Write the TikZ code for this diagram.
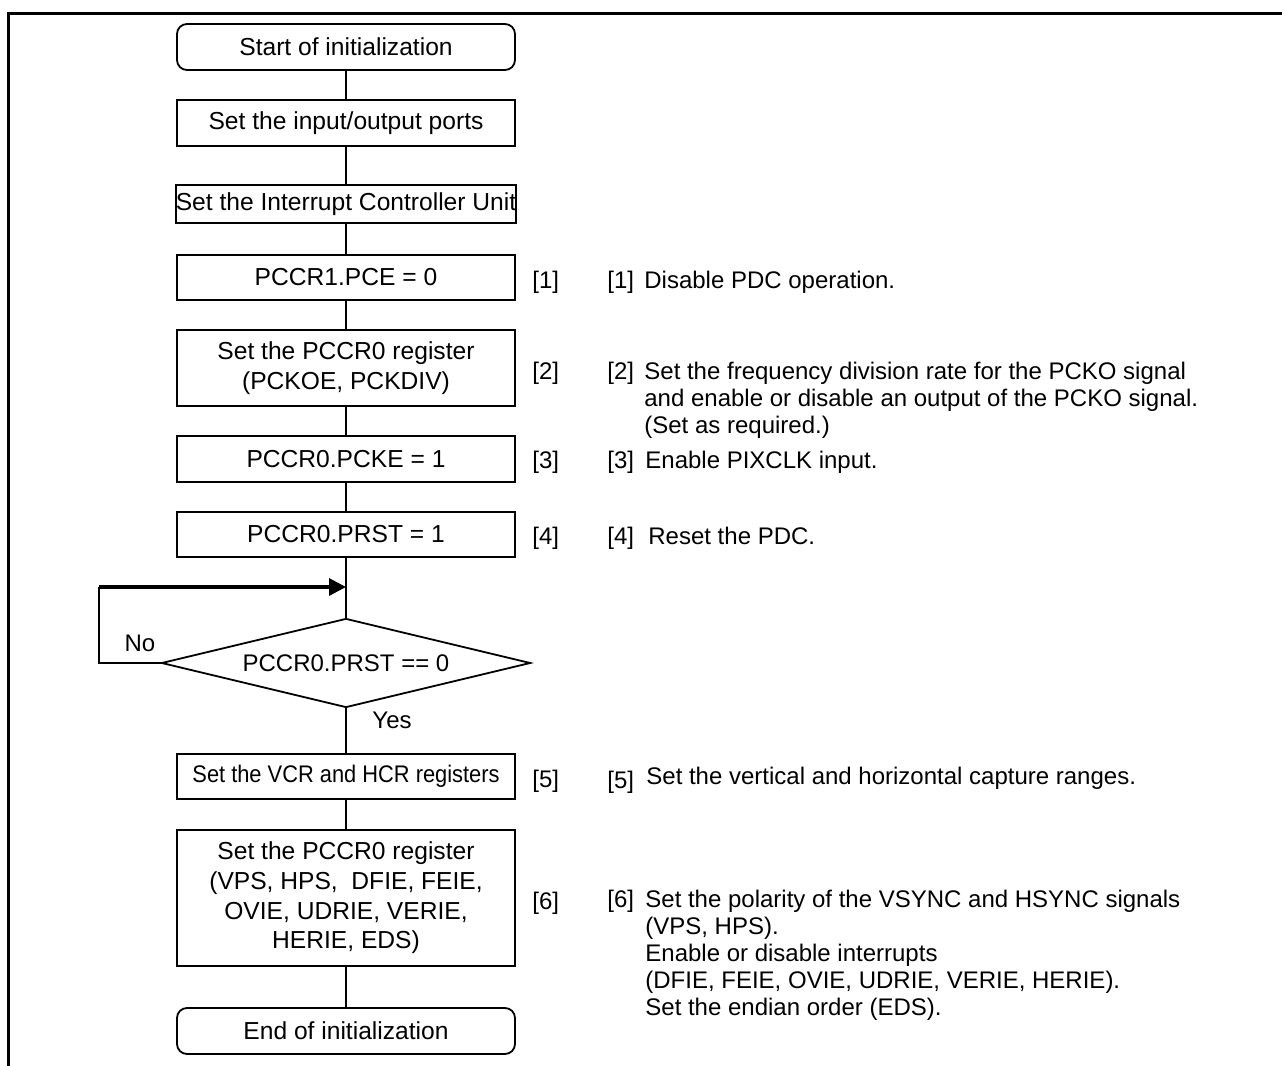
\documentclass[tikz,border=0pt]{standalone}
\usepackage{fontspec}
\setmainfont{Liberation Sans}
\newfontfamily\vcrfont[FakeStretch=0.91]{Liberation Sans}
\usetikzlibrary{shapes.geometric,arrows.meta}
\begin{document}
\begin{tikzpicture}[x=0.5pt,y=-0.5pt,
  box/.style={draw,line width=0.9pt,minimum width=169pt,inner sep=0pt,align=center,font=\fontsize{12.3}{14.8}\selectfont},
  term/.style={box,rounded corners=5pt},
  lbl/.style={anchor=base west,inner sep=0pt,font=\fontsize{12}{13.5}\selectfont},
  conn/.style={line width=0.85pt},
  thickarrow/.style={line width=1.6pt,-{Triangle[length=8.5pt,width=8.5pt]}}]
\useasboundingbox (0,0) rectangle (1282,1066);
\draw[line width=1.5pt] (8,1066) -- (8,13) -- (1282,13);

% flow boxes
\node[term,minimum height=23pt] (start) at (346,47) {Start of initialization};
\node[box,minimum height=23pt] (ports) at (346,123) {Set the input/output ports};
\node[box,minimum height=19pt] (icu) at (346,204) {Set the Interrupt Controller Unit};
\node[box,minimum height=22.5pt] (pce) at (346,277.5) {PCCR1.PCE = 0};
\node[box,minimum height=38pt] (reg1) at (346,368) {Set the PCCR0 register\\(PCKOE, PCKDIV)};
\node[box,minimum height=23pt] (pcke) at (346,459) {PCCR0.PCKE = 1};
\node[box,minimum height=22.5pt] (prst) at (346,534.5) {PCCR0.PRST = 1};
\node[draw,diamond,aspect=4.15,line width=0.9pt,inner sep=0pt,minimum width=184.5pt,minimum height=44.5pt,font=\fontsize{12}{14.5}\selectfont] (dec) at (346,663) {PCCR0.PRST == 0};
\node[box,minimum height=22.5pt,font=\vcrfont\fontsize{12}{14.5}\selectfont] (vcr) at (346,776.5) {Set the VCR and HCR registers};
\node[box,minimum height=68pt] (reg2) at (346,898) {Set the PCCR0 register\\(VPS, HPS,\ \ DFIE, FEIE,\\OVIE, UDRIE, VERIE,\\HERIE, EDS)};
\node[term,minimum height=23pt] (end) at (346,1031) {End of initialization};

% connectors
\draw[conn] (start) -- (ports);
\draw[conn] (ports) -- (icu);
\draw[conn] (icu) -- (pce);
\draw[conn] (pce) -- (reg1);
\draw[conn] (reg1) -- (pcke);
\draw[conn] (pcke) -- (prst);
\draw[conn] (prst) -- (dec);
\draw[conn] (dec) -- (vcr);
\draw[conn] (vcr) -- (reg2);
\draw[conn] (reg2) -- (end);
\coordinate (lp) at (99,663);
\coordinate (lq) at (99,587);
\coordinate (join) at (346,587);
\draw[conn] (dec.west) -- (lp) -- (lq);
\draw[thickarrow] (lq) -- (join);
\node[inner sep=0pt,font=\fontsize{12}{14}\selectfont] (no) at (140,643) {No};
\node[inner sep=0pt,font=\fontsize{12}{14}\selectfont] (yes) at (392,720) {Yes};

% step labels
\node[lbl] (s1) at (532,288) {[1]};
\node[lbl] (s2) at (532,379) {[2]};
\node[lbl] (s3) at (532,468) {[3]};
\node[lbl] (s4) at (532,544) {[4]};
\node[lbl] (s5) at (532,787) {[5]};
\node[lbl] (s6) at (532,909) {[6]};

% descriptions
\node[lbl] (d1k) at (607,288) {[1]};
\node[lbl] (d1) at (644,288) {Disable PDC operation.};
\node[lbl] (d2k) at (607,379) {[2]};
\node[lbl] (d2a) at (644,379) {Set the frequency division rate for the PCKO signal};
\node[lbl] (d2b) at (644,406) {and enable or disable an output of the PCKO signal.};
\node[lbl] (d2c) at (644,433) {(Set as required.)};
\node[lbl] (d3k) at (607,468) {[3]};
\node[lbl] (d3) at (645,468) {Enable PIXCLK input.};
\node[lbl] (d4k) at (607,544) {[4]};
\node[lbl] (d4) at (648,544) {Reset the PDC.};
\node[lbl] (d5k) at (607,788) {[5]};
\node[lbl] (d5) at (646,784) {Set the vertical and horizontal capture ranges.};
\node[lbl] (d6k) at (607,907) {[6]};
\node[lbl] (d6a) at (645,907) {Set the polarity of the VSYNC and HSYNC signals};
\node[lbl] (d6b) at (645,934) {(VPS, HPS).};
\node[lbl] (d6c) at (645,961) {Enable or disable interrupts};
\node[lbl] (d6d) at (645,988) {(DFIE, FEIE, OVIE, UDRIE, VERIE, HERIE).};
\node[lbl] (d6e) at (645,1015) {Set the endian order (EDS).};
\end{tikzpicture}
\end{document}
